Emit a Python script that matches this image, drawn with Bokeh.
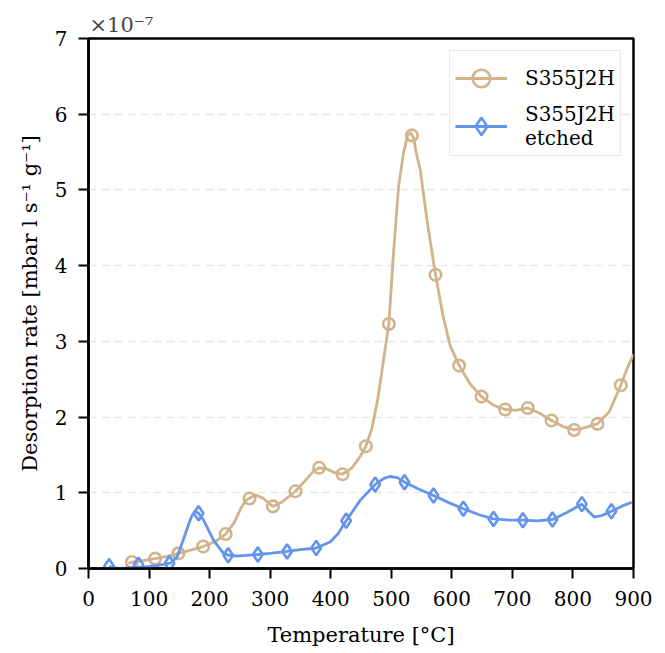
from bokeh.plotting import figure
from bokeh.models import Legend, LegendItem, FixedTicker, Range1d
from bokeh.core.properties import value
from bokeh.embed import file_html
from bokeh.resources import INLINE

# ---------------- data (desorption rate in units of 1e-7 mbar l s^-1 g^-1) -------------
tan_T = [66, 71.6, 90, 110, 130, 148.6, 170, 189.4, 210, 226.5, 240, 252, 260, 266,
         276, 288, 304.5, 320, 341.8, 360, 372, 380.9, 392, 405, 419.4, 435, 448, 458,
         468, 478, 488, 496, 503.6, 512, 520, 527, 532, 537, 541, 548, 559, 573, 586,
         597, 612, 630, 649, 668, 688, 705, 725.5, 745, 764.6, 785, 802, 820, 840.5,
         860, 879, 890, 900]
tan_v = [0.065, 0.085, 0.105, 0.13, 0.16, 0.20, 0.245, 0.29, 0.36, 0.455, 0.60, 0.80,
         0.90, 0.93, 0.97, 0.93, 0.82, 0.88, 1.02, 1.18, 1.29, 1.33, 1.32, 1.27, 1.245,
         1.33, 1.47, 1.615, 1.85, 2.25, 2.80, 3.23, 4.16, 5.04, 5.48, 5.72, 5.76, 5.68,
         5.50, 5.26, 4.60, 3.88, 3.32, 2.95, 2.68, 2.44, 2.27, 2.16, 2.10, 2.09, 2.12,
         2.05, 1.955, 1.87, 1.83, 1.86, 1.91, 2.07, 2.42, 2.65, 2.83]

tan_mark_T = [71.6, 110, 148.6, 189.4, 226.5, 266, 304.5, 341.8, 380.9, 419.4, 458,
              496, 534, 573, 612, 649, 688, 725.5, 764.6, 802, 840.5, 879]
tan_mark_v = [0.085, 0.13, 0.20, 0.29, 0.455, 0.925, 0.82, 1.02, 1.33, 1.245, 1.615,
              3.23, 5.72, 3.88, 2.68, 2.27, 2.10, 2.12, 1.955, 1.83, 1.91, 2.42]

blue_T = [34, 42, 52, 70, 94, 115, 135, 146, 153, 160, 166, 171, 176, 181.7, 190, 198,
          206, 214.7, 223, 231, 245, 260, 280, 300, 328, 350, 376, 399, 412, 425.5,
          448.6, 473.4, 488, 498, 510, 521.8, 545, 569.7, 595, 619, 645, 668.8, 695,
          717.3, 740, 766.2, 790, 814.7, 825, 835, 848, 863.6, 880, 897]
blue_v = [0.03, 0.01, 0.0, 0.01, 0.02, 0.04, 0.07, 0.15, 0.30, 0.46, 0.60, 0.70, 0.76,
          0.73, 0.64, 0.51, 0.38, 0.285, 0.20, 0.176, 0.165, 0.172, 0.185, 0.20, 0.225,
          0.25, 0.27, 0.35, 0.46, 0.63, 0.90, 1.11, 1.19, 1.215, 1.20, 1.14, 1.05, 0.965,
          0.87, 0.79, 0.71, 0.655, 0.64, 0.638, 0.63, 0.647, 0.74, 0.85, 0.76, 0.68,
          0.70, 0.757, 0.82, 0.876]

blue_mark_T = [34, 82.6, 133.8, 181.7, 230.7, 279.7, 328, 376, 425.5, 473.4, 521.8,
               569.7, 619, 668.8, 717.3, 766.2, 814.7, 863.6]
blue_mark_v = [0.03, 0.05, 0.07, 0.73, 0.176, 0.185, 0.225, 0.27, 0.63, 1.11, 1.14,
               0.965, 0.79, 0.655, 0.638, 0.647, 0.85, 0.757]

x_ticks = [0, 100, 200, 300, 400, 500, 600, 700, 800, 900]
y_ticks = [0, 1, 2, 3, 4, 5, 6, 7]

series_names = ["S355J2H", "S355J2H\netched"]
x_label = "Temperature [°C]"
y_label = "Desorption rate [mbar l s⁻¹ g⁻¹]"
multiplier = "×10⁻⁷"

TAN = "#D2B48C"
BLUE = "#6495ED"
FONT = "DejaVu Serif"

p = figure(width=665, height=653, output_backend="svg", toolbar_location=None,
           x_range=Range1d(0, 900), y_range=Range1d(0, 7),
           min_border_left=88, min_border_right=32, min_border_top=38,
           min_border_bottom=85)

p.background_fill_color = "white"
p.border_fill_color = "white"
p.outline_line_color = "black"
p.outline_line_width = 2.5

# title used as the offset text
p.title.text = multiplier
p.title.text_font = FONT
p.title.text_font_size = "21px"
p.title.text_font_style = "normal"
p.title.align = "left"
p.title.offset = 1
p.title.standoff = 4

for ax in (p.xaxis[0], p.yaxis[0]):
    ax.axis_line_width = 2.5
    ax.axis_line_color = "black"
    ax.major_tick_line_width = 2
    ax.major_tick_out = 10
    ax.major_tick_in = 0
    ax.minor_tick_line_color = None
    ax.major_label_text_font = FONT
    ax.major_label_text_font_size = "20px"
    ax.major_label_text_color = "black"
    ax.axis_label_text_font = FONT
    ax.axis_label_text_font_size = "21px"
    ax.axis_label_text_font_style = "normal"
    ax.axis_label_text_color = "black"

p.xaxis.ticker = FixedTicker(ticks=x_ticks)
p.yaxis.ticker = FixedTicker(ticks=y_ticks)
p.xaxis.axis_label = x_label
p.yaxis.axis_label = y_label
p.xaxis.major_label_standoff = 12
p.yaxis.major_label_standoff = 11
p.xaxis.axis_label_standoff = 14
p.yaxis.axis_label_standoff = 10

p.xgrid.visible = False
p.ygrid.ticker = FixedTicker(ticks=[1, 2, 3, 4, 5, 6])
p.ygrid.grid_line_color = "#e8e8e8"
p.ygrid.grid_line_width = 1.5
p.ygrid.grid_line_dash = "8 5"

tan_line = p.line(tan_T, tan_v, line_color=TAN, line_width=2.8)
tan_pts = p.scatter(tan_mark_T, tan_mark_v, marker="circle", size=11.5,
                    line_color=TAN, line_width=2.6, fill_color=None)
blue_line = p.line(blue_T, blue_v, line_color=BLUE, line_width=2.8)
blue_pts = p.scatter(blue_mark_T, blue_mark_v, marker="diamond", size=14.5,
                     line_color=BLUE, line_width=2.6, fill_color=None)

legend = Legend(items=[
    LegendItem(label=value(series_names[0]), renderers=[tan_line, tan_pts]),
    LegendItem(label=value(series_names[1]), renderers=[blue_line, blue_pts]),
], location="top_right")
legend.label_text_font = FONT
legend.label_text_font_size = "20px"
legend.label_text_line_height = 1.3
legend.label_text_color = "black"
legend.glyph_width = 52
legend.glyph_height = 44
legend.label_standoff = 18
legend.padding = 5
legend.spacing = 2
legend.margin = 12
legend.border_line_color = "#d4d4d4"
legend.border_line_width = 1.5
legend.background_fill_color = "white"
legend.background_fill_alpha = 0.9
p.add_layout(legend)

open("out.html", "w").write(file_html(p, INLINE))
